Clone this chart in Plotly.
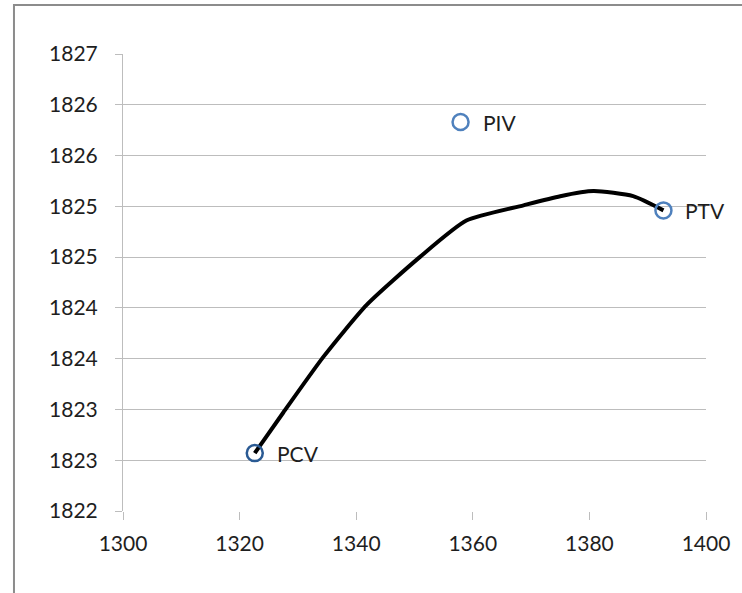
import plotly.graph_objects as go

# Named reference points
point_names = ["PCV", "PIV", "PTV"]
point_x = [1322.6, 1357.9, 1392.7]
point_y = [1822.57, 1825.83, 1824.96]
point_colors = ["#2A5A93", "#4F81BD", "#4F81BD"]

# Smoothed trajectory from PCV to PTV
curve_x = [1322.6, 1327.5, 1334.4, 1341.8, 1350.9, 1358.9, 1368.7, 1375.0, 1380.7, 1387.5, 1392.7]
curve_y = [1822.57, 1822.97, 1823.52, 1824.03, 1824.50, 1824.86, 1825.01, 1825.10, 1825.15, 1825.10, 1824.96]

# Axis ticks (values rounded to whole numbers for display)
y_tickvals = [1822.0, 1822.5, 1823.0, 1823.5, 1824.0, 1824.5, 1825.0, 1825.5, 1826.0, 1826.5]
y_ticktext = ["1822", "1823", "1823", "1824", "1824", "1825", "1825", "1826", "1826", "1827"]
x_tickvals = [1300, 1320, 1340, 1360, 1380, 1400]

FONT = "Lato, 'Liberation Sans', sans-serif"
FSIZE = 21
TXT = "#1E1E1E"
GRID = "#BDBDBD"

fig = go.Figure()

fig.add_trace(go.Scatter(
    x=curve_x, y=curve_y, mode="lines",
    line=dict(color="black", width=4, shape="spline", smoothing=0.6),
    hoverinfo="skip", showlegend=False,
))

fig.add_trace(go.Scatter(
    x=point_x, y=point_y, mode="markers",
    marker=dict(symbol="circle-open", size=16, color=point_colors,
                line=dict(width=2.5, color=point_colors)),
    showlegend=False,
))

# Point labels to the right of each marker
for name, px, py in zip(point_names, point_x, point_y):
    fig.add_annotation(x=px, y=py, text=name, showarrow=False,
                       xanchor="left", yanchor="middle", xshift=20,
                       font=dict(family=FONT, size=FSIZE, color=TXT))

fig.update_xaxes(
    range=[1300, 1400], tickvals=x_tickvals,
    showgrid=False, zeroline=False,
    ticks="outside", ticklen=8, tickcolor=GRID, tickwidth=1,
    showline=False, ticklabelstandoff=6,
    tickfont=dict(family=FONT, size=FSIZE, color=TXT),
)
fig.update_yaxes(
    range=[1822, 1826.5], tickvals=y_tickvals, ticktext=y_ticktext,
    showgrid=True, gridcolor=GRID, gridwidth=1, zeroline=False,
    ticks="outside", ticklen=7, tickcolor=GRID, tickwidth=1,
    showline=True, linecolor=GRID, linewidth=1, ticklabelstandoff=13,
    tickfont=dict(family=FONT, size=FSIZE, color=TXT),
)

# Outer chart frame (left and top edges)
fig.add_shape(type="path", xref="paper", yref="paper",
              path="M -0.187,-0.2 L -0.187,1.107 L 1.1,1.107",
              line=dict(color="#8C8C8C", width=2))

fig.update_layout(
    width=742, height=593,
    margin=dict(l=123, r=36, t=54, b=82),
    paper_bgcolor="white", plot_bgcolor="white",
)

fig.write_html("out.html")
